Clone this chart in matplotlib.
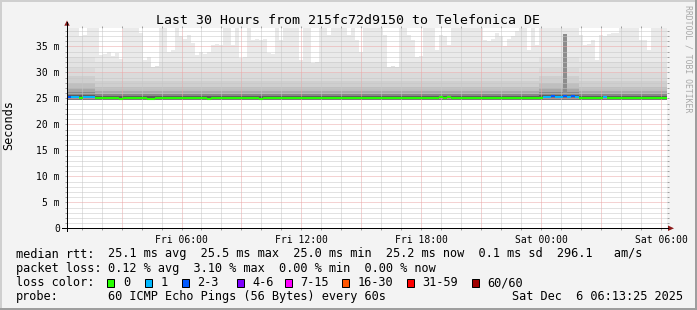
import numpy as np
import matplotlib
matplotlib.use('Agg')
import matplotlib.pyplot as plt
from matplotlib.patches import Rectangle, Polygon
from matplotlib.lines import Line2D

W, H = 697, 310
plt.rcParams['font.family'] = 'DejaVu Sans Mono'

# ---------------------------------- data ----------------------------------- #
# one column every 12 minutes, time in hours counted from Fri 00:00
t_start = 0.27
col_hours = 0.2

# highest ping of each column (ms); values above the graph top are clipped
rtt_max = [39, 39, 39, 37.0, 37.2, 39, 39, 39, 33.4, 33.6,
           34.0, 33.2, 33.8, 32.5, 39, 39, 39, 39, 37.5, 32.4,
           33.0, 31.1, 31.3, 39, 39, 34.0, 34.2, 39, 37.0, 36.5,
           37.2, 35.6, 33.4, 34.0, 33.6, 33.9, 35.3, 35.5, 35.2, 39,
           39, 35.3, 39, 32.7, 32.9, 39, 36.3, 36.5, 36.2, 36.4,
           33.8, 33.6, 39, 36.3, 39, 39, 39, 39, 32.4, 39,
           39, 31.7, 31.9, 39, 39, 37.2, 39, 39, 39, 39,
           37.2, 39, 36.3, 34.0, 39, 39, 39, 39, 39, 37.2,
           31.1, 31.3, 31.0, 39, 39, 37.2, 36.3, 33.0, 33.2, 39,
           39, 39, 34.3, 37.2, 37.0, 35.3, 39, 39, 39, 39,
           39, 39, 39, 39, 36.3, 36.1, 36.4, 37.5, 37.0, 35.0,
           36.5, 37.0, 38.0, 39, 39, 34.3, 39, 35.3, 39, 39,
           39, 39, 39, 39, 39, 39, 39, 39, 37.2, 35.3,
           35.5, 36.3, 32.4, 37.2, 37.0, 37.3, 37.5, 37.6, 39, 39,
           39, 39, 39, 36.3, 36.2, 34.3, 39, 39, 39, 39]

median_rtt = [25.3, 25.3, 25.3, 25.1, 25.3, 25.3, 25.3, 25.0, 25.0, 25.0,
              25.0, 25.0, 25.0, 24.9, 25.0, 25.0, 25.0, 25.0, 25.0, 25.0,
              24.9, 24.9, 25.0, 25.0, 25.0, 25.0, 25.0, 25.0, 25.0, 25.0,
              25.0, 25.0, 25.0, 25.0, 25.0, 24.9, 25.0, 25.0, 25.0, 25.0,
              25.0, 25.0, 25.0, 25.0, 25.0, 25.0, 25.0, 25.0, 24.9, 25.0,
              25.0, 25.0, 25.0, 25.0, 25.0, 25.0, 25.0, 25.0, 25.0, 25.0,
              25.0, 25.0, 25.0, 25.0, 25.0, 25.0, 25.0, 25.0, 25.0, 25.0,
              25.0, 25.0, 25.0, 25.0, 25.0, 25.0, 25.0, 25.0, 25.0, 25.0,
              25.0, 25.0, 25.0, 25.0, 25.0, 25.0, 25.0, 25.0, 25.0, 25.0,
              25.0, 25.0, 25.0, 25.2, 25.0, 25.2, 25.0, 25.0, 25.0, 25.0,
              25.0, 25.1, 25.1, 25.0, 25.0, 25.0, 25.1, 25.1, 25.0, 25.0,
              25.0, 25.1, 25.0, 25.0, 25.1, 25.0, 25.0, 25.1, 25.0, 25.3,
              25.3, 25.4, 25.3, 25.3, 25.4, 25.3, 25.4, 25.3, 25.0, 25.0,
              25.0, 25.1, 25.1, 25.0, 25.2, 25.0, 25.0, 25.1, 25.1, 25.0,
              25.0, 25.1, 25.0, 25.0, 25.1, 25.0, 25.0, 25.0, 25.1, 25.0]

# lost pings (of 60) per column
loss_pings = [2, 1, 1, 0, 1, 1, 1] + [0] * 112 + [1, 1, 2, 1, 1, 2, 1, 2, 1] \
             + [0] * 6 + [1] + [0] * 15

ping_floor = 24.75
smoke_levels = [25.4, 25.8, 26.4, 27.2, 28.3, 29.8, 32.0]
dense_levels = [25.6, 26.2, 27.0, 28.0, 29.3, 30.8, 33.0]
smoke_greys = ['#5c5c5c', '#888888', '#a8a8a8', '#bfbfbf', '#cfcfcf',
               '#dadada', '#e2e2e2', '#eaeaea']
dense_cols = [0, 1, 2, 3, 4, 5, 6, 118, 119, 120, 121, 122, 123, 124, 125, 126, 127]
spike_col = 124
spike_top = 37.4

loss_labels = ['0', '1', '2-3', '4-6', '7-15', '16-30', '31-59', '60/60']
loss_edges = [0, 1, 2, 4, 7, 16, 31, 60]
loss_colors = ['#26ff00', '#00b8ff', '#0059ff', '#7e00ff', '#ff00ff',
               '#ff5500', '#ff0000', '#a00000']

x_label_hours = [6, 12, 18, 24, 30]
x_labels = ['Fri 06:00', 'Fri 12:00', 'Fri 18:00', 'Sat 00:00', 'Sat 06:00']

title = 'Last 30 Hours from 215fc72d9150 to Telefonica DE'
stats_rtt = '25.1 ms avg  25.5 ms max  25.0 ms min  25.2 ms now  0.1 ms sd  296.1   am/s'
stats_loss = '0.12 % avg  3.10 % max  0.00 % min  0.00 % now'
probe_text = '60 ICMP Echo Pings (56 Bytes) every 60s'
stamp = 'Sat Dec  6 06:13:25 2025'


# ------------------------------- helpers ----------------------------------- #
def fx(x):
    return x / W


def fy(y):
    return 1 - y / H


fig = plt.figure(figsize=(W / 100, H / 100), dpi=100, facecolor='#f3f3f3')

ax_l, ax_r, ax_t, ax_b = 67, 666.5, 27.6, 228.3
ax = fig.add_axes([fx(ax_l), fy(ax_b), (ax_r - ax_l) / W, (ax_b - ax_t) / H])
ax.set_facecolor('white')

n = len(rtt_max)
mx = np.array(rtt_max)
med = np.array(median_rtt)
x_left = t_start + col_hours * np.arange(n)
x_mid = x_left + col_hours / 2

# smoke below the median
ax.bar(x_mid, med - ping_floor, bottom=ping_floor, width=col_hours,
       color='#7a7a7a', linewidth=0, zorder=1)

# smoke above the median, darker near the median
levels = np.array([dense_levels if i in dense_cols else smoke_levels for i in range(n)])
lo = med.copy()
for k in range(len(smoke_greys)):
    hi = levels[:, k] if k < levels.shape[1] else mx
    top = np.minimum(hi, mx)
    bot = np.minimum(np.maximum(lo, med), mx)
    ax.bar(x_mid, np.clip(top - bot, 0, None), bottom=bot, width=col_hours,
           color=smoke_greys[k], linewidth=0, zorder=1)
    lo = hi

ax.bar(x_mid[spike_col], spike_top - 26.0, bottom=26.0, width=col_hours,
       color='#8c8c8c', linewidth=0, zorder=1.1)

# median line coloured by loss
bins = np.searchsorted(loss_edges, loss_pings, side='right') - 1
ax.hlines(med, x_left, x_left + col_hours, colors=[loss_colors[b] for b in bins],
          linewidth=1.5, zorder=3)

ax.set_xlim(t_start, t_start + col_hours * n)
ax.set_ylim(0, 38.6)

maj_x = np.arange(3, 31, 3)
ax.set_xticks(maj_x)
ax.set_xticklabels([x_labels[x_label_hours.index(h)] if h in x_label_hours else ''
                    for h in maj_x], fontsize=7)
ax.set_xticks(np.arange(1, 31), minor=True)
ax.set_yticks(np.arange(0, 36, 5))
ax.set_yticklabels(['0'] + ['%d m' % v for v in range(5, 36, 5)], fontsize=7)
ax.set_yticks(np.arange(0, 39), minor=True)

ax.set_axisbelow(False)
ax.grid(which='minor', color='#c6c6c6', linewidth=0.72, linestyle=(0, (1, 1)))
ax.grid(which='major', color='#eaa6a6', linewidth=0.72, linestyle=(0, (1, 1)))
ax.tick_params(which='both', direction='out', width=0.72, length=1.6,
               color='#a0a0a0', top=True, right=True)
ax.tick_params(axis='x', which='major', pad=3)
ax.tick_params(axis='y', which='major', pad=3.5)
for s in ax.spines.values():
    s.set_visible(False)

# axes with arrows
fig.add_artist(Line2D([fx(62), fx(668)], [fy(ax_b), fy(ax_b)], color='black', lw=0.72))
fig.add_artist(Line2D([fx(ax_l), fx(ax_l)], [fy(231), fy(22)], color='black', lw=0.72))
fig.add_artist(Polygon([[fx(668), fy(225.5)], [fx(668), fy(231)], [fx(674), fy(ax_b)]],
                       closed=True, transform=fig.transFigure, color='#8b1a1a', lw=0))
fig.add_artist(Polygon([[fx(64.3), fy(25.7)], [fx(69.7), fy(25.7)], [fx(67), fy(20.5)]],
                       closed=True, transform=fig.transFigure, color='#8b1a1a', lw=0))

# texts
fig.text(fx(348.5), fy(24), title, fontsize=9.5, ha='center', va='baseline')
fig.text(fx(15.5), fy(125), 'Seconds', fontsize=8.6, rotation=90,
         ha='right', va='center')
fig.text(fx(688), fy(59), 'RRDTOOL / TOBI OETIKER', fontsize=5.9, rotation=270,
         ha='center', va='center', color='#a8a8a8')

rows = [257.5, 271.8, 286, 300.3]
fig.text(fx(16), fy(rows[0]), 'median rtt:', fontsize=8.6, va='baseline')
fig.text(fx(107.5), fy(rows[0]), stats_rtt, fontsize=8.6, va='baseline')
fig.text(fx(16), fy(rows[1]), 'packet loss:', fontsize=8.6, va='baseline')
fig.text(fx(107.5), fy(rows[1]), stats_loss, fontsize=8.6, va='baseline')
fig.text(fx(16), fy(rows[2]), 'loss color:', fontsize=8.6, va='baseline')
fig.text(fx(16), fy(rows[3]), 'probe:', fontsize=8.6, va='baseline')
fig.text(fx(107.5), fy(rows[3]), probe_text, fontsize=8.6, va='baseline')
fig.text(fx(683), fy(rows[3]), stamp, fontsize=8.6, ha='right', va='baseline')

box_x = [107.3, 145, 181.7, 236.7, 285, 341.7, 406.7, 471.7]
for bx, lab, col in zip(box_x, loss_labels, loss_colors):
    fig.add_artist(Rectangle((fx(bx), fy(287.3)), 7 / W, 8.7 / H,
                             transform=fig.transFigure, facecolor=col,
                             edgecolor='black', lw=0.72))
    fig.text(fx(bx + 15.5), fy(rows[2]), lab, fontsize=8.6, va='baseline')

# 3d frame around the image
fig.add_artist(Line2D([0, 1], [fy(1), fy(1)], color='#cfcfcf', lw=1.44))
fig.add_artist(Line2D([fx(1), fx(1)], [0, 1], color='#cfcfcf', lw=1.44))
fig.add_artist(Line2D([0, 1], [fy(309), fy(309)], color='#9e9e9e', lw=1.44))
fig.add_artist(Line2D([fx(696), fx(696)], [0, 1], color='#9e9e9e', lw=1.44))

fig.savefig('out.png', dpi=100, facecolor=fig.get_facecolor())
